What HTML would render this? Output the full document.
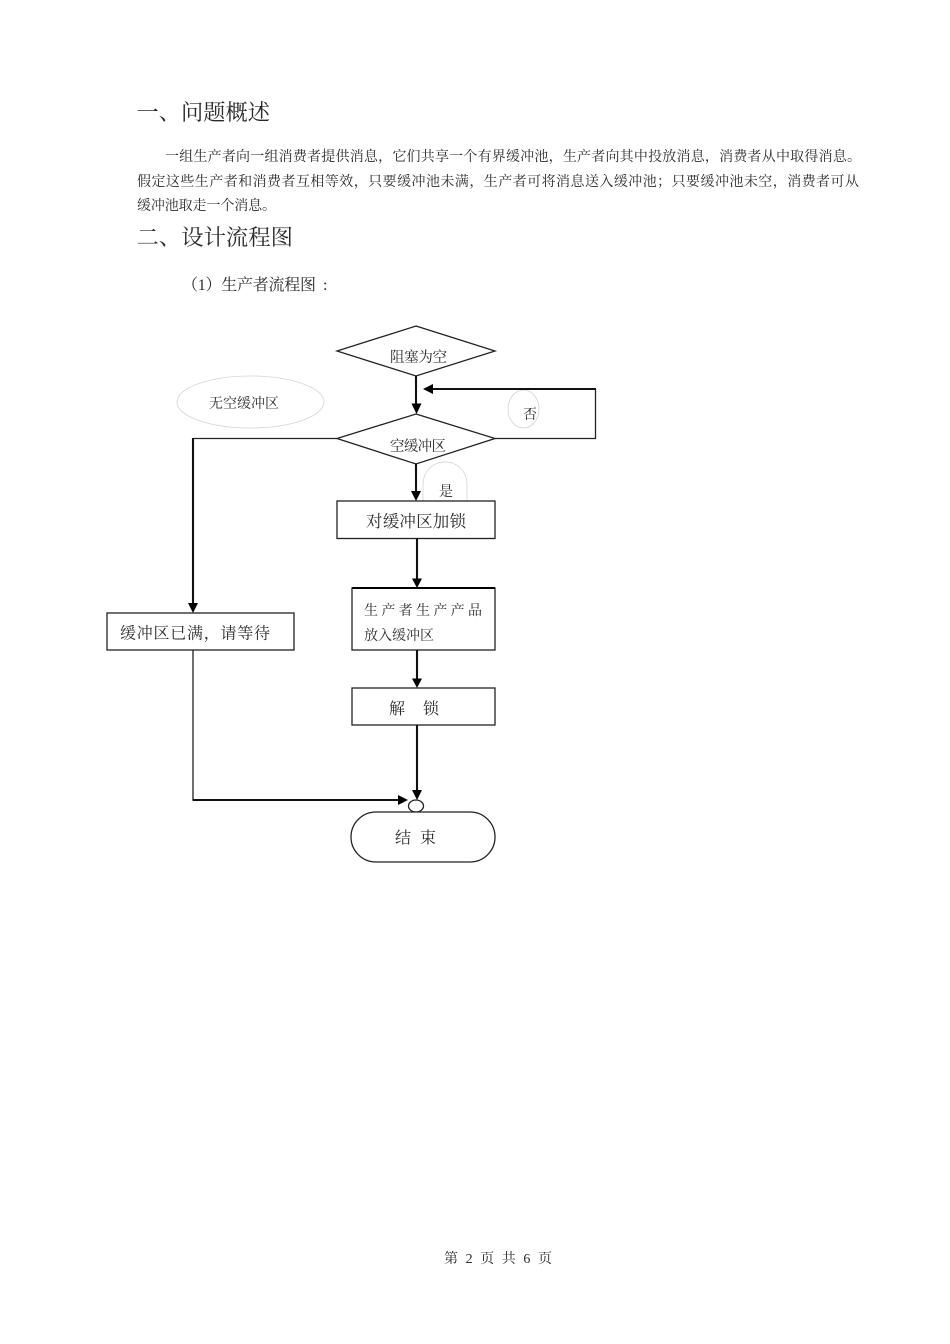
<!DOCTYPE html>
<html lang="zh">
<head>
<meta charset="utf-8">
<style>
html,body{margin:0;padding:0;background:#fff;width:950px;height:1344px;overflow:hidden}
svg{display:block;filter:blur(.3px)}
text{font-family:"Liberation Serif","Noto Serif CJK SC",serif;fill:#2a2a2a}
.l{stroke:#222;stroke-width:1.3;fill:none}
.t{stroke:#111;stroke-width:2.1;fill:none}
.s{stroke:#222;stroke-width:1.3;fill:#fff}
.e{stroke:#d4d4d4;stroke-width:.8;fill:none}
.a{fill:#000}
</style>
</head>
<body>
<svg width="950" height="1344" viewBox="0 0 950 1344" xmlns="http://www.w3.org/2000/svg">
<rect width="950" height="1344" fill="#fff"/>
<text x="136.500" y="120" font-size="22" textLength="133.500" lengthAdjust="spacingAndGlyphs">一、问题概述</text>
<text x="165" y="161" font-size="14" textLength="696">一组生产者向一组消费者提供消息，它们共享一个有界缓冲池，生产者向其中投放消息，消费者从中取得消息。</text>
<text x="137" y="186" font-size="14" textLength="722">假定这些生产者和消费者互相等效，只要缓冲池未满，生产者可将消息送入缓冲池；只要缓冲池未空，消费者可从</text>
<text x="137" y="210" font-size="14" textLength="139">缓冲池取走一个消息。</text>
<text x="136.500" y="245" font-size="22" textLength="156.500" lengthAdjust="spacingAndGlyphs">二、设计流程图</text>
<text x="182" y="290" font-size="16" textLength="134">（1）生产者流程图</text>
<text x="323" y="290" font-size="16">:</text>

<ellipse class="e" cx="250.500" cy="402" rx="73.500" ry="26"/>
<text x="209" y="408" font-size="14" textLength="70">无空缓冲区</text>
<ellipse class="e" cx="523.500" cy="409" rx="15.500" ry="19"/>
<text x="523" y="419" font-size="14">否</text>
<path class="e" d="M423 501 V485 C423 471 433 462 445 462 C457 462 467 471 467 485 V501"/>
<text x="439" y="496" font-size="14">是</text>

<polygon class="s" points="416,326 495,351 416,376 337,351"/>
<text x="390" y="362" font-size="14.500" textLength="57">阻塞为空</text>

<path class="t" d="M416 376V405"/>
<polygon class="a" points="411.500,403.500 421.500,403.500 416.500,414"/>

<polygon class="s" points="416,414 495,438.500 416,464 337,438.500"/>
<text x="390" y="451" font-size="14.500" textLength="56">空缓冲区</text>

<path class="l" d="M495 438.500H595.500V389"/>
<path class="t" d="M596 389H431"/>
<polygon class="a" points="433,384 433,394 423,389"/>
<path class="l" d="M337 438.500H193"/>
<path class="t" d="M193 438V605"/>
<polygon class="a" points="188,603 198,603 193,613"/>

<path class="t" d="M416 464V492"/>
<polygon class="a" points="411,491 421,491 416,501"/>

<rect class="s" x="337" y="501" width="158" height="37.500"/>
<text x="366" y="527" font-size="16.500" textLength="100">对缓冲区加锁</text>

<path class="t" d="M417 538V580"/>
<polygon class="a" points="412,578.500 422,578.500 417,588"/>

<rect class="s" x="352" y="588" width="143" height="62"/>
<path d="M352 588H495" stroke="#000" stroke-width="2"/>
<text x="364" y="615" font-size="14" textLength="118">生产者生产产品</text>
<text x="364" y="640" font-size="14" textLength="70">放入缓冲区</text>

<path class="t" d="M417 650V680"/>
<polygon class="a" points="412,678.500 422,678.500 417,688"/>

<rect class="s" x="352" y="688" width="143" height="37"/>
<text x="389" y="714" font-size="16" textLength="50">解　锁</text>

<path class="t" d="M417 725V792"/>
<polygon class="a" points="412,790 422,790 417,800"/>

<rect class="s" x="107" y="613" width="187" height="37"/>
<text x="120" y="638.500" font-size="16" textLength="150">缓冲区已满，请等待</text>

<path class="l" d="M193 650V800"/>
<path class="t" d="M192.500 800H400"/>
<polygon class="a" points="398,795 398,805 408,800"/>

<ellipse class="s" cx="416" cy="806" rx="7.500" ry="6"/>
<rect class="s" x="351" y="812" width="144" height="50" rx="25" ry="25"/>
<text x="395" y="843" font-size="16" textLength="41">结 束</text>

<text x="444" y="1263" font-size="14" textLength="108">第 2 页 共 6 页</text>
</svg>
</body>
</html>
